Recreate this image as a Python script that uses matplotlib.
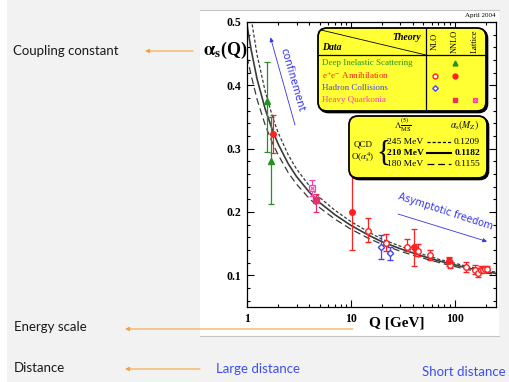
import matplotlib.pyplot as plt
from matplotlib.patches import FancyBboxPatch, Rectangle
from matplotlib.ticker import FixedLocator, FixedFormatter, MultipleLocator, NullFormatter

plt.rcParams['font.family'] = 'Liberation Serif'
plt.rcParams['mathtext.fontset'] = 'stix'

# QCD running coupling curves for three Lambda values
q_theory = [1.0, 1.1, 1.25, 1.5, 1.78, 2.0, 2.5, 3.0, 4.0, 5.0, 7.0, 10, 15, 20, 30, 50, 70, 91.2, 130, 180, 250]
as_245 = [0.560, 0.505, 0.448, 0.390, 0.348, 0.325, 0.290, 0.268, 0.241, 0.223, 0.203, 0.185,
          0.168, 0.157, 0.146, 0.133, 0.1255, 0.1209, 0.1145, 0.1095, 0.105]
as_210 = [0.495, 0.455, 0.410, 0.362, 0.327, 0.307, 0.276, 0.256, 0.231, 0.215, 0.196, 0.179,
          0.163, 0.153, 0.142, 0.130, 0.123, 0.1182, 0.112, 0.1075, 0.103]
as_180 = [0.445, 0.415, 0.378, 0.337, 0.307, 0.290, 0.262, 0.244, 0.221, 0.207, 0.189, 0.173,
          0.158, 0.149, 0.138, 0.127, 0.1205, 0.1155, 0.1095, 0.105, 0.101]

# deep inelastic scattering (NNLO)
dis_q = [1.56, 1.70]
dis_as = [0.375, 0.280]
dis_up = [0.062, 0.070]
dis_dn = [0.081, 0.068]

# e+e- annihilation (NNLO)
ee2_q = [1.78, 10.2, 41.0, 89.0]
ee2_as = [0.323, 0.200, 0.144, 0.1226]
ee2_up = [0.030, 0.060, 0.029, 0.0058]
ee2_dn = [0.030, 0.060, 0.029, 0.0038]

# e+e- annihilation (NLO)
ee1_q = [14.5, 22, 35, 44, 58, 89, 91.2, 130, 158, 168, 181, 188, 196, 205]
ee1_as = [0.170, 0.151, 0.145, 0.139, 0.132, 0.121, 0.117, 0.113, 0.109, 0.104, 0.109, 0.109, 0.110, 0.110]
ee1_up = [0.021, 0.015, 0.012, 0.011, 0.008, 0.006, 0.005, 0.008, 0.007, 0.007, 0.005, 0.004, 0.004, 0.004]
ee1_dn = [0.017, 0.013, 0.007, 0.008, 0.008, 0.006, 0.005, 0.008, 0.007, 0.007, 0.005, 0.004, 0.004, 0.004]

# hadron collisions (NLO)
had_q = [19.7, 24.1]
had_as = [0.145, 0.136]
had_up = [0.018, 0.009]
had_dn = [0.019, 0.012]

# heavy quarkonia (NNLO and lattice)
hq_q = [4.6]
hq_as = [0.219]
hq_up = [0.010]
hq_dn = [0.019]
lat_q = [4.2]
lat_as = [0.238]
lat_up = [0.012]
lat_dn = [0.012]

lambda_labels = ['245 MeV', '210 MeV', '180 MeV']
asmz_labels = ['0.1209', '0.1182', '0.1155']

GREEN = '#1f951f'
RED = '#ff2020'
BLUE = '#4646e6'
CRIMSON = '#e8306a'
PINK = '#ff40b0'
ORANGE = '#f4a43a'
SLIDE_BLUE = '#3c4ef0'
YELLOW = '#ffff33'

fig = plt.figure(figsize=(5.09, 3.82), dpi=100, facecolor='#f2f2f2')

# background layer in pixel units (origin top-left)
bg = fig.add_axes([0, 0, 1, 1], zorder=0)
bg.set_xlim(0, 509)
bg.set_ylim(382, 0)
bg.axis('off')
bg.add_patch(Rectangle((0, 0), 7, 382, fc='white', ec='none'))
bg.add_patch(Rectangle((200, 10), 299, 326, fc='white', ec='none'))
bg.plot([200, 499], [10, 10], color='#c4c4c4', lw=0.8)
bg.plot([200, 499], [336, 336], color='#c4c4c4', lw=0.8)

# main chart
ax = fig.add_axes([247 / 509, 75 / 382, 249 / 509, 285 / 382], zorder=1)
ax.set_facecolor('white')
ax.set_xscale('log')

l1, = ax.plot(q_theory, as_245, color='#3a3a3a', lw=0.9)
l1.set_dashes([2.5, 1.6])
ax.plot(q_theory, as_210, color='#3a3a3a', lw=1.2)
l3, = ax.plot(q_theory, as_180, color='#3a3a3a', lw=0.9)
l3.set_dashes([5.5, 3.0])

eb = dict(ms=4, capsize=2, elinewidth=0.9, capthick=0.9, zorder=3)
ax.errorbar(dis_q, dis_as, yerr=[dis_dn, dis_up], fmt='^', color=GREEN, **eb)
ax.errorbar(ee1_q, ee1_as, yerr=[ee1_dn, ee1_up], fmt='o', color=RED, mfc='white', mew=1, **eb)
ax.errorbar(ee2_q, ee2_as, yerr=[ee2_dn, ee2_up], fmt='o', color=RED, **eb)
ax.errorbar(had_q, had_as, yerr=[had_dn, had_up], fmt='D', color=BLUE, mfc='white', mew=1,
            ms=3.2, capsize=2, elinewidth=0.9, capthick=0.9, zorder=3)
ax.errorbar(lat_q, lat_as, yerr=[lat_dn, lat_up], fmt='s', color=PINK, mfc='white', mew=0.9, **eb)
ax.plot(lat_q, lat_as, 'x', color=PINK, ms=3, mew=0.8, zorder=4)
ax.errorbar(hq_q, hq_as, yerr=[hq_dn, hq_up], fmt='s', color=CRIMSON, **eb)

ax.set_xlim(1, 251)
ax.set_ylim(0.05, 0.5)
ax.xaxis.set_major_locator(FixedLocator([1, 10, 100]))
ax.xaxis.set_major_formatter(FixedFormatter(['1', '10', '100']))
ax.xaxis.set_minor_formatter(NullFormatter())
ax.yaxis.set_major_locator(FixedLocator([0.1, 0.2, 0.3, 0.4, 0.5]))
ax.yaxis.set_major_formatter(FixedFormatter(['0.1', '0.2', '0.3', '0.4', '0.5']))
ax.yaxis.set_minor_locator(MultipleLocator(0.02))
ax.tick_params(which='both', direction='in', top=True, right=True, width=0.8)
ax.tick_params(which='major', length=5, labelsize=8.5, pad=4)
ax.tick_params(which='minor', length=2.5)
for lab in ax.get_xticklabels() + ax.get_yticklabels():
    lab.set_fontweight('bold')
for s in ax.spines.values():
    s.set_linewidth(0.9)

# foreground layer: labels, legend boxes and annotations
fg = fig.add_axes([0, 0, 1, 1], zorder=2)
fg.set_xlim(0, 509)
fg.set_ylim(382, 0)
fg.axis('off')

fg.text(203, 50, r'$\mathbf{\alpha_s}$(Q)', fontsize=13, fontweight='bold', va='center', ha='left')
fg.text(397, 323, 'Q [GeV]', fontsize=11, fontweight='bold', va='center', ha='center')
fg.text(496, 16, 'April 2004', fontsize=5, ha='right', va='center')

# legend box: data vs theory
fg.add_patch(FancyBboxPatch((319.5, 29.5), 168, 83, boxstyle='round,pad=0,rounding_size=9',
                            fc='black', ec='black', lw=1.2))
fg.add_patch(FancyBboxPatch((318, 28), 168, 83, boxstyle='round,pad=0,rounding_size=9',
                            fc=YELLOW, ec='black', lw=1.3))
fg.plot([426, 426], [28, 111], color='black', lw=0.9)
fg.plot([318, 486], [55, 55], color='black', lw=0.9)
fg.plot([321, 426], [30, 55], color='black', lw=0.6)
fg.text(421, 38, 'Theory', fontsize=7, fontweight='bold', fontstyle='italic', ha='right', va='center')
fg.text(322, 48, 'Data', fontsize=7, fontweight='bold', fontstyle='italic', ha='left', va='center')
for x, t in zip([435, 455, 475], ['NLO', 'NNLO', 'Lattice']):
    fg.text(x, 41, t, fontsize=6, rotation=90, ha='center', va='center')
rows = [('Deep Inelastic Scattering', GREEN, 63),
        (r'e$^{+}$e$^{-}$ Annihilation', RED, 75.5),
        ('Hadron Collisions', BLUE, 88),
        ('Heavy Quarkonia', PINK, 99.5)]
for t, c, y in rows:
    fg.text(322, y, t, fontsize=6.5, color=c, ha='left', va='center')
fg.plot(455, 63, '^', color=GREEN, ms=3.5)
fg.plot(435, 75.5, 'o', mfc='white', mec=RED, mew=1, ms=3.5)
fg.plot(455, 75.5, 'o', color=RED, ms=3.5)
fg.plot(435, 88, 'D', mfc='white', mec=BLUE, mew=1, ms=2.8)
fg.plot(455, 99.5, 's', color=CRIMSON, ms=3.5)
fg.plot(475, 99.5, 's', mfc='white', mec=PINK, mew=0.9, ms=3.5)
fg.plot(475, 99.5, 'x', color=PINK, mew=0.8, ms=2.6)

# legend box: QCD curves
fg.add_patch(FancyBboxPatch((350.5, 117.5), 138, 62, boxstyle='round,pad=0,rounding_size=9',
                            fc='black', ec='black', lw=1.2))
fg.add_patch(FancyBboxPatch((349, 116), 138, 62, boxstyle='round,pad=0,rounding_size=9',
                            fc=YELLOW, ec='black', lw=1.3))
fg.text(403, 125, r'$\Lambda^{(5)}_{\overline{\rm MS}}$', fontsize=6.5, ha='center', va='center')
fg.text(465, 125, r'$\alpha_{\rm s}(M_{\rm Z})$', fontsize=7, ha='center', va='center')
fg.text(363, 145, 'QCD', fontsize=6.5, ha='center', va='center')
fg.text(363, 157, r'O($\alpha_{\rm s}^{4}$)', fontsize=6.5, ha='center', va='center')
fg.text(383, 153, '{', fontsize=21, ha='center', va='center')
styles = [([2.5, 1.6], 0.9, 'normal', 142), (None, 1.5, 'bold', 153), ([5.5, 3.0], 0.9, 'normal', 164)]
for (dash, lw, w, y), lab, val in zip(styles, lambda_labels, asmz_labels):
    fg.text(387, y, lab, fontsize=6.8, fontweight=w, ha='left', va='center')
    fg.text(480, y, val, fontsize=6.8, fontweight=w, ha='right', va='center')
    ln, = fg.plot([427, 451], [y, y], color='black', lw=lw)
    if dash:
        ln.set_dashes(dash)

# arrows inside the chart
fg.annotate('', xy=(270.5, 37.5), xytext=(295, 125),
            arrowprops=dict(arrowstyle='-|>', color='#3333ee', lw=0.6, mutation_scale=6,
                            shrinkA=0, shrinkB=0))
fg.text(292.5, 79.5, 'confinement', fontsize=7.5, family='DejaVu Sans', color='#3333ee',
        rotation=-74, ha='center', va='center')
fg.annotate('', xy=(487, 241.5), xytext=(398, 214),
            arrowprops=dict(arrowstyle='-|>', color='#3333ee', lw=0.6, mutation_scale=6,
                            shrinkA=0, shrinkB=0))
fg.text(446, 211.5, 'Asymptotic freedom', fontsize=7, family='DejaVu Sans', color='#3333ee',
        rotation=-18, ha='center', va='center')

# slide annotations on the left and bottom
slide = dict(family='Lato', fontsize=9.5, va='center')
fg.text(13, 51, 'Coupling constant', color='#1a1a1a', ha='left', **slide)
fg.text(14, 327, 'Energy scale', color='#1a1a1a', ha='left', **slide)
fg.text(14, 368, 'Distance', color='#1a1a1a', ha='left', **slide)
fg.text(216, 369, 'Large distance', color=SLIDE_BLUE, ha='left', **slide)
fg.text(422, 372, 'Short distance', color=SLIDE_BLUE, ha='left', **slide)
for x0, x1, y in [(193, 145, 51), (353, 125, 329), (200, 125, 369)]:
    fg.annotate('', xy=(x1, y), xytext=(x0, y),
                arrowprops=dict(arrowstyle='-|>', color=ORANGE, lw=0.8, mutation_scale=6,
                                shrinkA=0, shrinkB=0))

fig.savefig('out.png', dpi=100, facecolor=fig.get_facecolor())
